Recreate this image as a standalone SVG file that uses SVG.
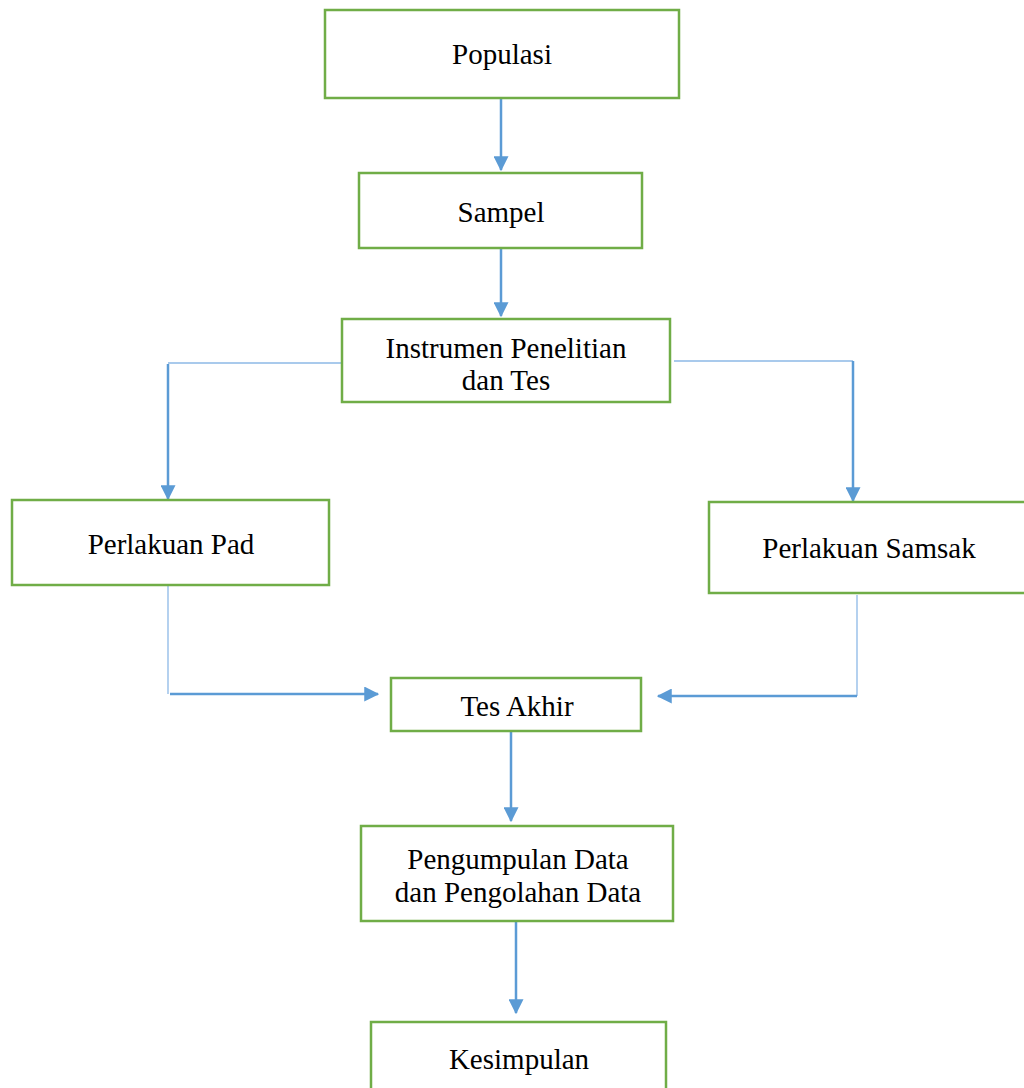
<svg xmlns="http://www.w3.org/2000/svg" width="1024" height="1088" viewBox="0 0 1024 1088">
<style>
.box{fill:#fff;stroke:#70AD47;stroke-width:2.5}
.t{font-family:"Liberation Serif","Times New Roman",serif;font-size:29px;fill:#000;text-anchor:middle}
.c{fill:none;stroke:#5B9BD5;stroke-width:2.5}
.thin{fill:none;stroke:#8DB9E6;stroke-width:1.3}
</style>
<defs>
<marker id="ah" markerWidth="6" markerHeight="6" refX="5.5" refY="3" orient="auto" markerUnits="strokeWidth" viewBox="0 0 6 6">
<path d="M0,0 L6,3 L0,6 z" fill="#5B9BD5"/>
</marker>
</defs>
<rect width="1024" height="1088" fill="#fff"/>
<g id="connectors">
<line class="c" x1="501" y1="99" x2="501" y2="170" marker-end="url(#ah)"/>
<line class="c" x1="501" y1="249" x2="501" y2="316" marker-end="url(#ah)"/>
<line class="thin" x1="342" y1="363" x2="168" y2="363"/>
<line class="c" x1="168" y1="364" x2="168" y2="499" marker-end="url(#ah)"/>
<line class="thin" x1="674" y1="361" x2="853" y2="361"/>
<line class="c" x1="853" y1="361" x2="853" y2="501" marker-end="url(#ah)"/>
<line class="thin" x1="168" y1="586" x2="168" y2="694"/>
<line class="c" x1="170" y1="694" x2="378" y2="694" marker-end="url(#ah)"/>
<line class="thin" x1="857" y1="595" x2="857" y2="696"/>
<line class="c" x1="857" y1="696" x2="658" y2="696" marker-end="url(#ah)"/>
<line class="c" x1="511" y1="732" x2="511" y2="821" marker-end="url(#ah)"/>
<line class="c" x1="516" y1="922" x2="516" y2="1013" marker-end="url(#ah)"/>
</g>
<g id="populasi"><rect class="box" x="325" y="10" width="354" height="88"/><text class="t" x="502" y="64">Populasi</text></g>
<g id="sampel"><rect class="box" x="359" y="173" width="283" height="75"/><text class="t" x="501" y="222">Sampel</text></g>
<g id="instrumen"><rect class="box" x="342" y="319" width="328" height="83"/><text class="t" x="506" y="358">Instrumen Penelitian</text><text class="t" x="506" y="390">dan Tes</text></g>
<g id="pad"><rect class="box" x="12" y="500" width="317" height="85"/><text class="t" x="171" y="554">Perlakuan Pad</text></g>
<g id="samsak"><rect class="box" x="709" y="502" width="330" height="91"/><text class="t" x="869" y="558">Perlakuan Samsak</text></g>
<g id="tesakhir"><rect class="box" x="391" y="678" width="250" height="53"/><text class="t" x="517" y="716">Tes Akhir</text></g>
<g id="pengumpulan"><rect class="box" x="361" y="826" width="312" height="95"/><text class="t" x="518" y="869">Pengumpulan Data</text><text class="t" x="518" y="902">dan Pengolahan Data</text></g>
<g id="kesimpulan"><rect class="box" x="371" y="1022" width="295" height="80"/><text class="t" x="519" y="1069">Kesimpulan</text></g>
</svg>
